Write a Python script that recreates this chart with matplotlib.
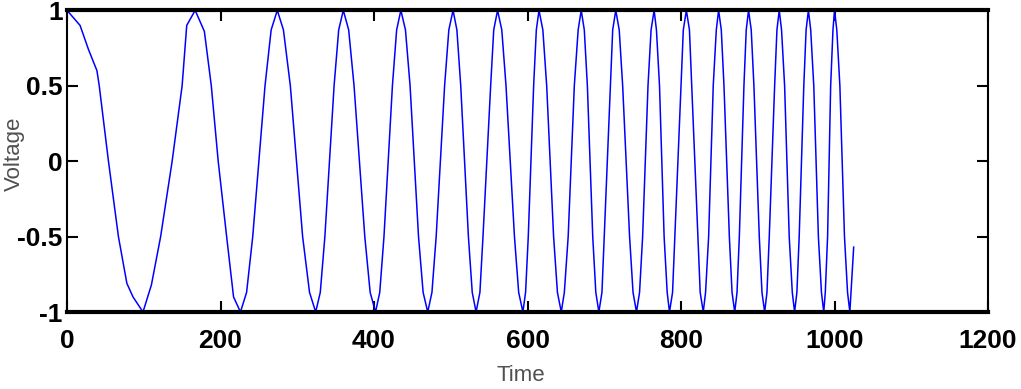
#!/usr/bin/env python3
import matplotlib
matplotlib.use('Agg')
import matplotlib.pyplot as plt
from matplotlib.font_manager import FontProperties

# chirp samples (time, voltage), one half-cycle per row
time = [
	0, 17, 28, 39, 42, 54, 67, 78, 86, 99,
	110, 122, 137, 150, 156, 167,
	179, 188, 197, 208, 217, 226,
	234, 242, 258, 266, 274,
	282, 291, 307, 316, 324,
	330, 336, 348, 354, 360,
	367, 374, 388, 395, 402,
	407.5, 413, 424, 429.5, 435,
	441, 447, 458, 464, 470,
	475.5, 481, 492, 497.5, 503,
	508, 513, 523, 528, 533,
	538, 542, 552, 556, 561,
	566.5, 572, 583, 588.5, 594,
	597.5, 601, 608, 611.5, 615,
	620, 625, 634, 639, 644,
	648, 653, 661, 666, 670,
	674, 678, 685, 689, 693,
	697, 700, 708, 711, 715,
	719.5, 724, 733, 737.5, 742,
	746, 750, 757, 761, 765,
	768, 772, 778, 782, 785,
	789, 792, 800, 803, 807,
	811, 814, 822, 825, 829,
	832, 836, 842, 846, 849,
	852.5, 856, 863, 866.5, 870,
	873, 876, 882, 885, 888,
	891.5, 895, 902, 905.5, 909,
	912, 915, 922, 925, 928,
	931, 935, 941, 945, 948,
	951, 954, 960, 963, 966,
	969, 973, 979, 983, 986,
	988, 991, 995, 998, 1000,
	1003, 1007, 1013, 1017, 1020,
	1025,
]
voltage = [
	1, 0.9, 0.74, 0.6, 0.5, 0, -0.5, -0.81, -0.9, -1,
	-0.82, -0.5, 0, 0.5, 0.9, 1,
	0.86, 0.5, 0, -0.5, -0.9, -1,
	-0.87, -0.5, 0.5, 0.87, 1,
	0.87, 0.5, -0.5, -0.87, -1,
	-0.87, -0.5, 0.5, 0.87, 1,
	0.87, 0.5, -0.5, -0.87, -1,
	-0.87, -0.5, 0.5, 0.87, 1,
	0.87, 0.5, -0.5, -0.87, -1,
	-0.87, -0.5, 0.5, 0.87, 1,
	0.87, 0.5, -0.5, -0.87, -1,
	-0.87, -0.5, 0.5, 0.87, 1,
	0.87, 0.5, -0.5, -0.87, -1,
	-0.87, -0.5, 0.5, 0.87, 1,
	0.87, 0.5, -0.5, -0.87, -1,
	-0.87, -0.5, 0.5, 0.87, 1,
	0.87, 0.5, -0.5, -0.87, -1,
	-0.87, -0.5, 0.5, 0.87, 1,
	0.87, 0.5, -0.5, -0.87, -1,
	-0.87, -0.5, 0.5, 0.87, 1,
	0.87, 0.5, -0.5, -0.87, -1,
	-0.87, -0.5, 0.5, 0.87, 1,
	0.87, 0.5, -0.5, -0.87, -1,
	-0.87, -0.5, 0.5, 0.87, 1,
	0.87, 0.5, -0.5, -0.87, -1,
	-0.87, -0.5, 0.5, 0.87, 1,
	0.87, 0.5, -0.5, -0.87, -1,
	-0.87, -0.5, 0.5, 0.87, 1,
	0.87, 0.5, -0.5, -0.87, -1,
	-0.87, -0.5, 0.5, 0.87, 1,
	0.87, 0.5, -0.5, -0.87, -1,
	-0.87, -0.5, 0.5, 0.87, 1,
	0.87, 0.5, -0.5, -0.87, -1,
	-0.57,
]

xticks = [0, 200, 400, 600, 800, 1000, 1200]
yticks = [-1, -0.5, 0, 0.5, 1]
ytick_labels = ['-1', '-0.5', '0', '0.5', '1']

fig = plt.figure(figsize=(10.21, 3.89), dpi=100)
ax = fig.add_axes([67 / 1021, 1 - 312 / 389, 921 / 1021, 301.7 / 389])

ax.plot(time, voltage, color='blue', linewidth=1.1)

ax.set_xlim(0, 1200)
ax.set_ylim(-1, 1)
ax.set_xticks(xticks)
ax.set_yticks(yticks)
ax.set_yticklabels(ytick_labels)

tick_font = FontProperties(family='Liberation Sans', weight='bold', size=19)
for lab in ax.get_xticklabels() + ax.get_yticklabels():
	lab.set_fontproperties(tick_font)

ax.tick_params(axis='both', direction='in', length=8, width=1.5, color='black',
	top=True, right=True)
ax.tick_params(axis='x', pad=12)
ax.tick_params(axis='y', pad=3)

for side in ['top', 'bottom']:
	ax.spines[side].set_linewidth(3)
for side in ['left', 'right']:
	ax.spines[side].set_linewidth(1.5)

label_font = dict(family='Liberation Sans', size=16, color='#505050')
ax.set_xlabel('Time', **label_font)
ax.set_ylabel('Voltage', **label_font)
ax.xaxis.set_label_coords(0.493, -0.175)
ax.yaxis.set_label_coords(-0.046, 0.524)

plt.savefig('out.png', dpi=100)
print('Saved out.png')
